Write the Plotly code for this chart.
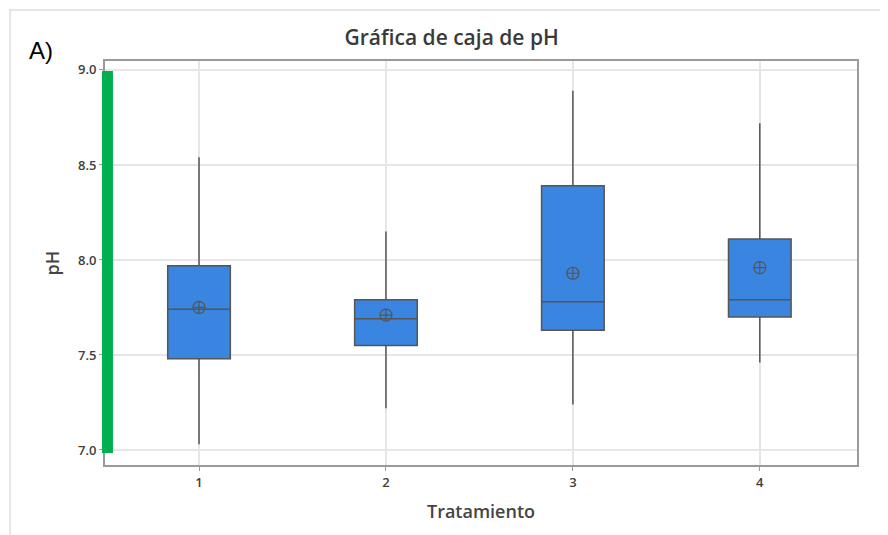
import plotly.graph_objects as go

tratamientos = [1, 2, 3, 4]
lower_whisker = [7.03, 7.22, 7.24, 7.46]
q1_vals = [7.48, 7.55, 7.63, 7.70]
median_vals = [7.74, 7.69, 7.78, 7.79]
q3_vals = [7.97, 7.79, 8.39, 8.11]
upper_whisker = [8.54, 8.15, 8.89, 8.72]
mean_vals = [7.75, 7.71, 7.93, 7.96]
y_ticks = [7.0, 7.5, 8.0, 8.5, 9.0]

FONT = "Open Sans, Noto Sans, sans-serif"
LINE = "#555555"
FILL = "#3a85e0"

fig = go.Figure()
fig.add_trace(go.Box(
    x=tratamientos,
    q1=q1_vals, median=median_vals, q3=q3_vals,
    lowerfence=lower_whisker, upperfence=upper_whisker,
    width=0.335, whiskerwidth=0,
    fillcolor=FILL,
    line=dict(color=LINE, width=1.5),
    boxpoints=False, showlegend=False, hoverinfo="skip",
))
fig.add_trace(go.Scatter(
    x=tratamientos, y=mean_vals, mode="markers",
    marker=dict(symbol="circle-cross-open", size=12, color=LINE,
                line=dict(width=1.2, color=LINE)),
    showlegend=False, hoverinfo="skip",
))

axis_common = dict(
    showgrid=True, gridcolor="#e6e6e6", gridwidth=1.5,
    showline=True, linecolor="#9a9a9a", linewidth=2, mirror=True,
    ticks="outside", ticklen=4, tickcolor="#9a9a9a",
    zeroline=False,
    tickfont=dict(family=FONT, size=13, color="#404040", weight=600),
)

fig.update_layout(
    width=880, height=527,
    margin=dict(l=97, r=31, t=53, b=70),
    paper_bgcolor="white", plot_bgcolor="white",
    title=dict(text="Gráfica de caja de pH", xref="paper", x=0.461, xanchor="center",
               y=0.943, yanchor="middle",
               font=dict(family=FONT, size=21, color="#3a3a3a", weight=600)),
    xaxis=dict(range=[0.497, 4.52], tickvals=tratamientos,
               ticktext=[str(t) for t in tratamientos],
               title=dict(text="Tratamiento", standoff=16,
                          font=dict(family=FONT, size=18, color="#444444", weight=600)),
               **axis_common),
    yaxis=dict(range=[6.921, 9.047], tickvals=y_ticks, tickformat=".1f",
               title=dict(text="pH", standoff=14,
                          font=dict(family=FONT, size=18, color="#444444", weight=600)),
               **axis_common),
    shapes=[
        dict(type="rect", xref="paper", yref="paper",
             x0=-0.1263, x1=1.06, y0=-0.2, y1=1.126,
             line=dict(color="#dddddd", width=1.5), fillcolor="rgba(0,0,0,0)",
             layer="below"),
        dict(type="rect", xref="paper", yref="paper",
             x0=-0.004, x1=0.0106, y0=0.0297, y1=0.975,
             line=dict(width=0), fillcolor="#00b050", layer="above"),
    ],
    annotations=[
        dict(text="A)", xref="paper", yref="paper", x=-0.085, y=1.025,
             xanchor="center", yanchor="middle", showarrow=False,
             font=dict(family="Liberation Sans, Arial, sans-serif", size=24, color="#000000")),
    ],
)

fig.write_html("out.html")
